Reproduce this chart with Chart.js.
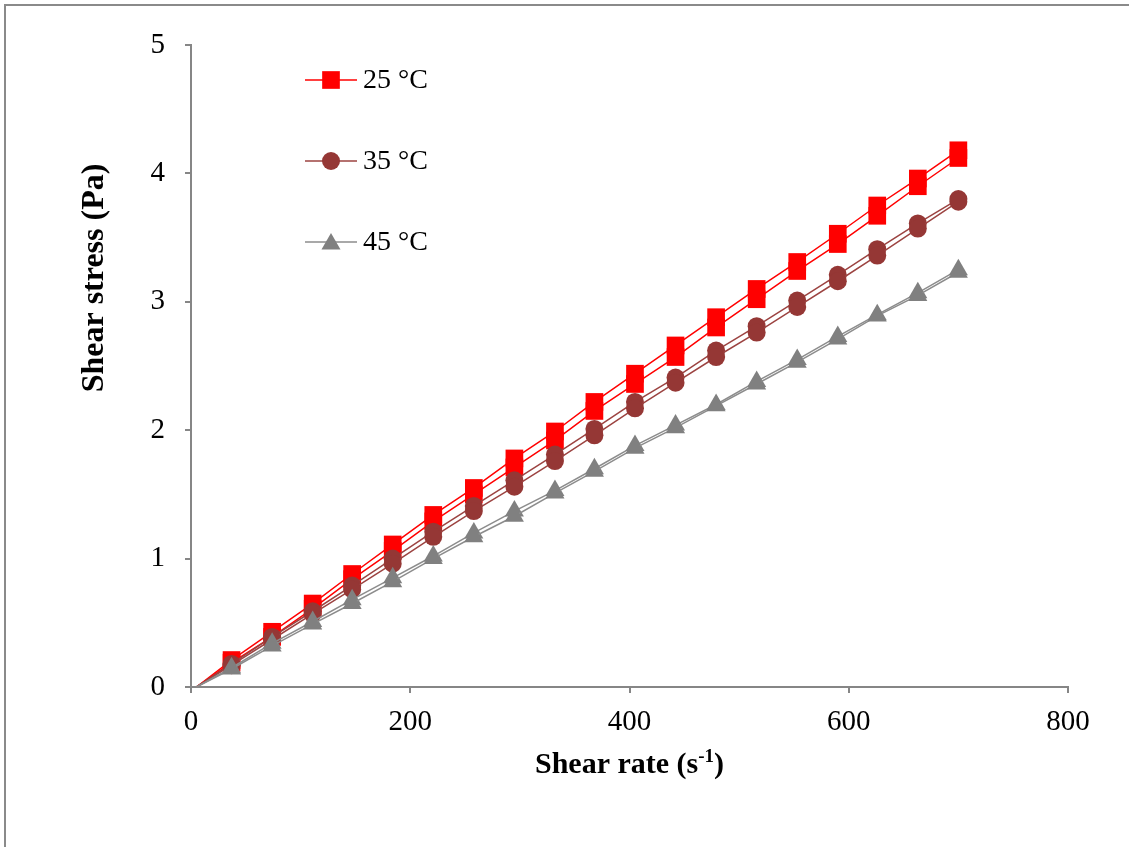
<!DOCTYPE html>
<html>
<head>
<meta charset="utf-8">
<script src="https://cdn.jsdelivr.net/npm/chart.js@4.4.1/dist/chart.umd.min.js"></script>
<style>
  body { margin: 0; background: #fff; }
  #wrap { position: relative; width: 1129px; height: 847px; }
  #frame {
    position: absolute; left: 4px; top: 4px; width: 1130px; height: 841px;
    border-left: 2px solid #8a8a8a; border-top: 2px solid #8a8a8a;
    border-bottom: 1px solid #d4d4d4; pointer-events: none;
  }
</style>
</head>
<body>
<div id="wrap">
  <canvas id="flowChart" width="1129" height="847"></canvas>
  <div id="frame"></div>
</div>
<script>
// Скорость сдвига (s-1), первая точка — начало кривой без маркера
const shearRate = [5, 37, 74, 111, 147, 184, 221, 258, 295, 332, 368, 405, 442, 479, 516, 553, 590, 626, 663, 700];

// Напряжение сдвига (Pa): для каждой температуры две ветви (прямая и обратная)
const stress25a = [0, 0.21, 0.43, 0.65, 0.88, 1.11, 1.34, 1.55, 1.78, 1.99, 2.22, 2.44, 2.66, 2.88, 3.10, 3.31, 3.53, 3.75, 3.96, 4.18];
const stress25b = [0, 0.19, 0.39, 0.61, 0.84, 1.06, 1.29, 1.50, 1.71, 1.92, 2.15, 2.36, 2.57, 2.80, 3.02, 3.24, 3.45, 3.67, 3.90, 4.12];
const stress35a = [0, 0.18, 0.39, 0.59, 0.79, 1.00, 1.21, 1.41, 1.61, 1.81, 2.01, 2.22, 2.41, 2.62, 2.81, 3.01, 3.21, 3.41, 3.61, 3.80];
const stress35b = [0, 0.17, 0.37, 0.57, 0.76, 0.96, 1.17, 1.37, 1.56, 1.76, 1.96, 2.17, 2.37, 2.57, 2.76, 2.96, 3.16, 3.36, 3.57, 3.78];
const stress45a = [0, 0.15, 0.34, 0.51, 0.68, 0.85, 1.02, 1.20, 1.37, 1.53, 1.70, 1.88, 2.04, 2.20, 2.38, 2.55, 2.73, 2.90, 3.07, 3.25];
const stress45b = [0, 0.14, 0.32, 0.49, 0.65, 0.82, 1.00, 1.17, 1.33, 1.51, 1.68, 1.86, 2.02, 2.19, 2.36, 2.53, 2.71, 2.89, 3.05, 3.23];

const seriesLabels = ['25 °C', '35 °C', '45 °C'];
const xTicks = [0, 200, 400, 600, 800];
const yTicks = [0, 1, 2, 3, 4, 5];

const SERIF = '"Liberation Serif", "Times New Roman", serif';
const AXIS_GRAY = '#868686';

// Стиль серий: маркер, цвет маркера, цвет линии, радиус
const styles = [
    { pointStyle: 'rect', fill: '#ff0000', line: '#ff0000', radius: 12.5 },
    { pointStyle: 'circle', fill: '#953735', line: '#9c4341', radius: 9 },
    { pointStyle: 'triangle', fill: '#808080', line: '#8c8c8c', radius: 11 }
];

function toPoints(values) {
    return values.map((v, i) => ({ x: shearRate[i], y: v }));
}

function makeDataset(values, st) {
    return {
        data: toPoints(values),
        borderColor: st.line,
        borderWidth: 1.5,
        backgroundColor: st.fill,
        pointBackgroundColor: st.fill,
        pointBorderColor: st.fill,
        pointBorderWidth: 0,
        pointStyle: st.pointStyle,
        // первая точка (начало кривой) без маркера
        pointRadius: ctx => ctx.dataIndex === 0 ? 0 : st.radius,
        pointHoverRadius: ctx => ctx.dataIndex === 0 ? 0 : st.radius,
        tension: 0,
        fill: false
    };
}

// Порядок: в Chart.js первый набор рисуется поверх, поэтому 45 °C идёт первым
const datasets = [
    makeDataset(stress45b, styles[2]),
    makeDataset(stress45a, styles[2]),
    makeDataset(stress35b, styles[1]),
    makeDataset(stress35a, styles[1]),
    makeDataset(stress25b, styles[0]),
    makeDataset(stress25a, styles[0])
];

function drawMarker(ctx, st, x, y) {
    ctx.fillStyle = st.fill;
    ctx.beginPath();
    if (st.pointStyle === 'rect') {
        const s = Math.SQRT1_2 * st.radius;
        ctx.rect(x - s, y - s, 2 * s, 2 * s);
    } else if (st.pointStyle === 'circle') {
        ctx.arc(x, y, st.radius, 0, Math.PI * 2);
    } else {
        const r = st.radius;
        ctx.moveTo(x, y - r);
        ctx.lineTo(x + Math.sin(2 * Math.PI / 3) * r, y + 0.5 * r);
        ctx.lineTo(x - Math.sin(2 * Math.PI / 3) * r, y + 0.5 * r);
        ctx.closePath();
    }
    ctx.fill();
}

// Легенда внутри области графика и подписи осей
const decorPlugin = {
    id: 'decor',
    afterDraw(chart) {
        const ctx = chart.ctx;
        ctx.save();

        // легенда
        const legendY = [80, 161, 242];
        seriesLabels.forEach((label, i) => {
            const st = styles[i];
            const y = legendY[i];
            ctx.strokeStyle = st.line;
            ctx.lineWidth = 1.5;
            ctx.beginPath();
            ctx.moveTo(305, y);
            ctx.lineTo(357, y);
            ctx.stroke();
            drawMarker(ctx, st, 331, i === 2 ? y + 2 : y);
            ctx.fillStyle = '#000';
            ctx.font = '28px ' + SERIF;
            ctx.textAlign = 'left';
            ctx.textBaseline = 'middle';
            ctx.fillText(label, 363, y + 1);
        });

        // подпись оси Y
        ctx.save();
        ctx.translate(95, 278);
        ctx.rotate(-Math.PI / 2);
        ctx.font = 'bold 32px ' + SERIF;
        ctx.fillStyle = '#000';
        ctx.textAlign = 'center';
        ctx.textBaseline = 'middle';
        ctx.fillText('Shear stress (Pa)', 0, 0);
        ctx.restore();

        // подпись оси X с надстрочным "-1"
        const main = 'Shear rate (s';
        const sup = '-1';
        const tail = ')';
        const baseFont = 'bold 30px ' + SERIF;
        const supFont = 'bold 19px ' + SERIF;
        ctx.font = baseFont;
        const wMain = ctx.measureText(main).width;
        const wTail = ctx.measureText(tail).width;
        ctx.font = supFont;
        const wSup = ctx.measureText(sup).width;
        const total = wMain + wSup + wTail;
        const area = chart.chartArea;
        let x = (area.left + area.right) / 2 - total / 2;
        const baseY = 773;
        ctx.fillStyle = '#000';
        ctx.textAlign = 'left';
        ctx.textBaseline = 'alphabetic';
        ctx.font = baseFont;
        ctx.fillText(main, x, baseY);
        x += wMain;
        ctx.font = supFont;
        ctx.fillText(sup, x, baseY - 11);
        x += wSup;
        ctx.font = baseFont;
        ctx.fillText(tail, x, baseY);

        ctx.restore();
    }
};

new Chart(document.getElementById('flowChart'), {
    type: 'line',
    data: { datasets: datasets },
    options: {
        responsive: false,
        animation: false,
        events: [],
        layout: { padding: { left: 0, top: 45, right: 61, bottom: 0 } },
        plugins: {
            legend: { display: false },
            tooltip: { enabled: false }
        },
        scales: {
            x: {
                type: 'linear',
                min: xTicks[0],
                max: xTicks[xTicks.length - 1],
                afterBuildTicks: scale => { scale.ticks = xTicks.map(v => ({ value: v })); },
                afterFit: scale => { scale.height = 160; },
                grid: { drawOnChartArea: false, drawTicks: true, tickLength: 6, color: AXIS_GRAY, lineWidth: 2 },
                border: { color: AXIS_GRAY, width: 2 },
                ticks: { color: '#000', padding: 12, maxRotation: 0, font: { family: SERIF, size: 29 } }
            },
            y: {
                type: 'linear',
                min: yTicks[0],
                max: yTicks[yTicks.length - 1],
                afterBuildTicks: scale => { scale.ticks = yTicks.map(v => ({ value: v })); },
                afterFit: scale => { scale.width = 191; },
                grid: { drawOnChartArea: false, drawTicks: true, tickLength: 6, color: AXIS_GRAY, lineWidth: 2 },
                border: { color: AXIS_GRAY, width: 2 },
                ticks: { color: '#000', padding: 20, font: { family: SERIF, size: 29 } }
            }
        }
    },
    plugins: [decorPlugin]
});
</script>
</body>
</html>
